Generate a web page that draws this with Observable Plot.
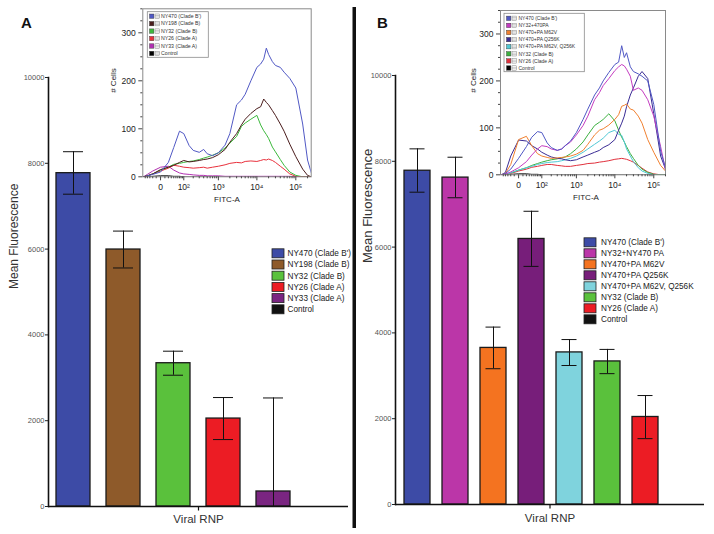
<!DOCTYPE html>
<html><head><meta charset="utf-8">
<script src="https://cdn.jsdelivr.net/npm/d3@7"></script>
<script src="https://cdn.jsdelivr.net/npm/@observablehq/plot@0.6"></script>
<style>
body{margin:0;background:#fff;}
#fig{position:relative;width:714px;height:534px;overflow:hidden;background:#fff;}
</style></head><body><div id="fig"></div>
<script>
const FONT = '"Liberation Sans", Arial, Helvetica, sans-serif';

// ---------- Bar chart data ----------
const labelsA = ["NY470 (Clade B')", "NY198 (Clade B)", "NY32 (Clade B)", "NY26 (Clade A)", "NY33 (Clade A)", "Control"];
const colorsA = ["#3d4ba6", "#8e5a2a", "#5ac13c", "#ec1c24", "#7a2581", "#111111"];
const meanA = [7770, 5990, 3340, 2050, 350, 0];
const lowA  = [7280, 5560, 3060, 1560, 0, 0];
const highA = [8270, 6420, 3620, 2540, 2530, 0];

const labelsB = ["NY470 (Clade B')", "NY32+NY470 PA", "NY470+PA M62V", "NY470+PA Q256K", "NY470+PA M62V, Q256K", "NY32 (Clade B)", "NY26 (Clade A)", "Control"];
const colorsB = ["#3d4ba6", "#bb36a8", "#f47320", "#771e7a", "#7fd3dd", "#5ac13c", "#ec1c24", "#111111"];
const meanB = [7780, 7620, 3650, 6190, 3545, 3335, 2040, 0];
const lowB  = [7280, 7150, 3165, 5550, 3240, 3050, 1535, 0];
const highB = [8290, 8095, 4135, 6835, 3845, 3615, 2540, 0];

const yTicks = [0, 2000, 4000, 6000, 8000, 10000];
const yTickLabels = ["0", "2000", "4000", "6000", "8000", "10000"];

// ---------- Flow histogram data (inset) ----------
const fitc = [-60,-40,-20,0,20,40,70,100,150,200,300,400,500,700,1000,1500,2000,3000,4000,5000,7000,10000,12500,15000,17500,20000,25000,30000,40000,50000,70000,100000,150000,200000,250000];

const histLabelsA = ["NY470 (Clade B')", "NY198 (Clade B)", "NY32 (Clade B)", "NY26 (Clade A)", "NY33 (Clade A)", "Control"];
const histColorsA = ["#5058c4", "#4a1c1c", "#3cb83c", "#e8303c", "#b030b0", "#000000"];
const histA_NY470 = [0,2,5,10,30,61,95,90,65,55,51,57,48,44,50,66,90,150,160,172,200,228,235,245,268,255,240,232,228,218,205,185,110,35,8];
const histA_NY198 = [0,2,6,15,20,24,30,34,31,32,34,36,37,40,46,57,72,90,108,120,132,142,146,162,155,150,138,128,110,95,68,42,16,3,0];
const histA_NY32  = [0,2,6,14,20,26,28,30,32,33,36,39,41,45,50,60,70,84,105,112,120,128,108,96,88,80,62,52,36,24,10,3,0,0,0];
const histA_NY26  = [0,2,6,12,18,24,22,20,19,18,19,20,18,20,22,25,28,30,29,32,33,32,34,36,35,37,34,30,22,16,6,1,0,0,0];
const histA_NY33  = [0,5,12,20,22,14,8,6,5,4,3,3,2,2,2,1,1,1,1,1,1,1,1,1,1,1,1,1,1,1,1,0,0,0,0];
const histA_Ctrl  = [0,0,1,2,2,1,1,0,0,0,0,0,0,0,0,0,0,0,0,0,0,0,0,0,0,0,0,0,0,0,0,0,0,0,0];

const histLabelsB = ["NY470 (Clade B')", "NY32+470PA", "NY470+PA M62V", "NY470+PA Q256K", "NY470+PA M62V, Q256K", "NY32 (Clade B)", "NY26 (Clade A)", "Control"];
const histColorsB = ["#5058c4", "#c43cc0", "#f08030", "#3a2c94", "#50c8d4", "#3cb040", "#e0303c", "#000000"];
const histB_NY470 = [0,3,12,35,60,80,92,90,68,58,52,55,62,72,90,118,140,170,185,200,218,235,240,275,250,260,230,220,215,210,200,150,50,15,5];
const histB_PA    = [0,2,6,15,28,42,55,62,60,55,52,55,62,70,85,105,125,160,175,190,205,222,230,235,232,225,210,180,185,180,160,125,60,10,2];
const histB_M62V  = [0,3,22,75,82,62,45,40,37,35,36,37,38,40,44,52,65,85,95,98,106,118,128,146,148,151,140,138,125,110,75,48,20,8,2];
const histB_Q256K = [0,5,40,74,72,62,55,48,42,38,35,34,32,30,32,38,42,48,52,58,64,75,95,110,125,145,170,185,210,220,205,130,40,12,3];
const histB_Dbl   = [0,1,4,10,15,18,22,24,26,27,28,30,32,35,40,48,55,65,72,78,90,95,86,84,70,55,40,28,15,8,3,0,0,0,0];
const histB_NY32  = [0,1,4,10,15,20,24,27,30,32,34,36,38,45,55,70,85,105,112,118,130,115,95,80,70,60,45,35,20,12,5,1,0,0,0];
const histB_NY26  = [0,1,3,8,12,16,18,20,22,22,20,19,18,18,20,22,24,25,27,28,30,33,34,35,34,33,30,27,20,14,6,2,0,0,0];
const histB_Ctrl  = [0,0,1,2,2,1,1,0,0,0,0,0,0,0,0,0,0,0,0,0,0,0,0,0,0,0,0,0,0,0,0,0,0,0,0];

const cellTicks = [0, 100, 200, 300];
const cellMinorTicks = [25,50,75,125,150,175,225,250,275,325,350];
const fitcTicks = [0, 100, 1000, 10000, 100000];
const fitcTickLabels = ["0", "10\u00B2", "10\u00B3", "10\u2074", "10\u2075"];
const fitcMinorTicks = [-50,-40,-30,-20,-10,10,20,30,40,50,60,70,80,90,200,300,400,500,600,700,800,900,2000,3000,4000,5000,6000,7000,8000,9000,20000,30000,40000,50000,60000,70000,80000,90000,200000];

// ---------- helpers ----------
const fig = document.getElementById("fig");
function place(node, left, top) {
  node.style.position = "absolute";
  node.style.left = left + "px";
  node.style.top = top + "px";
  fig.appendChild(node);
}
const tickSymbol = {draw(context) { context.moveTo(0, 0); context.lineTo(0, 4); }};

function barPanel(o) {
  const data = o.labels.map((label, i) => ({label, mean: o.mean[i], low: o.low[i], high: o.high[i]}));
  const err = data.filter(d => d.high > d.low);
  return Plot.plot({
    width: o.width, height: 534,
    marginLeft: o.marginLeft, marginRight: o.marginRight, marginTop: o.marginTop, marginBottom: o.marginBottom,
    style: {background: "transparent", fontFamily: FONT, color: "#222", overflow: "visible"},
    x: {domain: o.labels, paddingInner: 0.32, paddingOuter: 0.16, axis: null},
    y: {domain: [0, 10000], axis: null},
    color: {domain: o.labels, range: o.colors},
    marks: [
      Plot.barY(data, {x: "label", y: "mean", fill: "label", stroke: "#1b1b1b", strokeWidth: 1.3}),
      Plot.ruleX(err, {x: "label", y1: "low", y2: "high", stroke: "#111", strokeWidth: 1}),
      Plot.tickY(err, {x: "label", y: "high", stroke: "#111", strokeWidth: 1, insetLeft: o.capInset, insetRight: o.capInset}),
      Plot.tickY(err, {x: "label", y: "low", stroke: "#111", strokeWidth: 1, insetLeft: o.capInset, insetRight: o.capInset}),
      Plot.ruleY([0], {stroke: "#111", strokeWidth: 1.6}),
      Plot.frame({anchor: "left", stroke: "#111", strokeWidth: 1.6}),
      Plot.axisY(yTicks, {label: null, tickSize: 3, tickPadding: 1, fontSize: 7.5, fill: "#555", stroke: "#222",
        tickFormat: d => yTickLabels[yTicks.indexOf(d)]}),
      Plot.text(["Mean Fluorescence"], {text: d => d, frameAnchor: "left", dx: o.titleDx, dy: o.titleDy, rotate: -90, fontSize: o.titleSize, fill: "#333"}),
      Plot.text(["Viral RNP"], {text: d => d, frameAnchor: "bottom", dy: o.labelDy, fontSize: 11.5, fill: "#333"}),
      Plot.dot([0], {frameAnchor: "bottom", symbol: tickSymbol, stroke: "#111", strokeWidth: 1.2, r: 3})
    ]
  });
}

function histInset(o) {
  const rows = [];
  for (let j = o.series.length - 1; j >= 0; --j) {
    o.series[j].forEach((y, i) => rows.push({x: fitc[i], y, s: o.labels[j]}));
  }
  const labelMap = new Map(fitcTicks.map((t, i) => [t, fitcTickLabels[i]]));
  return Plot.plot({
    width: o.width, height: o.height,
    marginLeft: o.marginLeft, marginRight: o.marginRight, marginTop: o.marginTop, marginBottom: o.marginBottom,
    style: {background: "transparent", fontFamily: FONT, color: "#222", overflow: "visible"},
    x: {type: "symlog", constant: 34, domain: o.domainX, axis: null},
    y: {domain: [0, 350], axis: null},
    color: {domain: o.labels, range: o.colors},
    marks: [
      Plot.frame({stroke: "#8a8a8a", strokeWidth: 1}),
      Plot.line(rows, {x: "x", y: "y", z: "s", stroke: "s", strokeWidth: 1, clip: true}),
      Plot.axisY(cellTicks, {label: null, tickSize: 4, tickPadding: 3, fontSize: 8.5, fill: "#222", stroke: "#444"}),
      Plot.axisY(cellMinorTicks, {label: null, tickSize: 2, stroke: "#444", tickFormat: () => ""}),
      Plot.axisX(fitcTicks, {label: null, tickSize: 4, tickPadding: 3.5, fontSize: 8.5, fill: "#222", stroke: "#444", tickFormat: d => labelMap.get(d)}),
      Plot.axisX(fitcMinorTicks, {label: null, tickSize: 2, stroke: "#444", tickFormat: () => ""}),
      Plot.text(["# Cells"], {text: d => d, frameAnchor: "left", dx: o.cellsDx, rotate: -90, fontSize: 8, fill: "#222"}),
      Plot.text(["FITC-A"], {text: d => d, frameAnchor: "bottom", dx: o.fitcDx, dy: 25, fontSize: 8, fill: "#222"})
    ]
  });
}

// ---------- build ----------
place(barPanel({labels: labelsA, colors: colorsA, mean: meanA, low: lowA, high: highA,
  width: 355, marginLeft: 48, marginRight: 7, marginTop: 77, marginBottom: 28, capInset: 7,
  titleDx: -34, titleDy: -3, titleSize: 12, labelDy: 16}), 0, 0);
place(barPanel({labels: labelsB, colors: colorsB, mean: meanB, low: lowB, high: highB,
  width: 357, marginLeft: 38, marginRight: 10, marginTop: 75, marginBottom: 30, capInset: 5.5,
  titleDx: -28, titleDy: -27, titleSize: 13, labelDy: 17.5}), 357, 0);

place(histInset({series: [histA_NY470, histA_NY198, histA_NY32, histA_NY26, histA_NY33, histA_Ctrl],
  labels: histLabelsA, colors: histColorsA, domainX: [-63, 248000],
  width: 215, height: 205, marginLeft: 42.3, marginRight: 4.3, marginTop: 8.3, marginBottom: 28.7, cellsDx: -29, fitcDx: 0}), 100, 0);
place(histInset({series: [histB_NY470, histB_PA, histB_M62V, histB_Q256K, histB_Dbl, histB_NY32, histB_NY26, histB_Ctrl],
  labels: histLabelsB, colors: histColorsB, domainX: [-65, 200000],
  width: 210, height: 205, marginLeft: 40, marginRight: 5, marginTop: 10, marginBottom: 30.7, cellsDx: -27, fitcDx: 3}), 460, 0);

// ---------- overlay: panel letters, divider, legends ----------
const svg = d3.create("svg").attr("width", 714).attr("height", 534)
  .style("position", "absolute").style("left", "0px").style("top", "0px")
  .style("font-family", FONT);
svg.append("rect").attr("x", 352.5).attr("y", 7).attr("width", 3.5).attr("height", 521).attr("fill", "#111");
svg.append("text").attr("x", 21).attr("y", 28).attr("font-size", 15).attr("font-weight", "bold").attr("fill", "#111").text("A");
svg.append("text").attr("x", 377).attr("y", 28).attr("font-size", 15).attr("font-weight", "bold").attr("fill", "#111").text("B");

function mainLegend(labels, colors, x0, y0, step, tx) {
  const g = svg.append("g");
  labels.forEach((l, i) => {
    const y = y0 + i * step;
    g.append("rect").attr("x", x0).attr("y", y - 4.5).attr("width", 12).attr("height", 9)
      .attr("fill", colors[i]).attr("stroke", "#222").attr("stroke-width", 0.8);
    g.append("text").attr("x", tx).attr("y", y).attr("dy", "0.35em").attr("font-size", 8.2).attr("fill", "#222").text(l);
  });
}
mainLegend(labelsA, colorsA, 272, 253.3, 11.2, 287.5);
mainLegend(labelsB, colorsB, 584, 242.3, 11.0, 601);

function insetLegend(labels, colors, bx, by, bw, bh, y0, step, sx, ix, tx, fs) {
  const g = svg.append("g");
  g.append("rect").attr("x", bx).attr("y", by).attr("width", bw).attr("height", bh)
    .attr("fill", "#fff").attr("stroke", "#8a8a8a").attr("stroke-width", 0.8);
  labels.forEach((l, i) => {
    const y = y0 + i * step;
    g.append("rect").attr("x", sx).attr("y", y - 2.2).attr("width", 4.4).attr("height", 4.4)
      .attr("fill", colors[i]).attr("stroke", "#333").attr("stroke-width", 0.4);
    g.append("rect").attr("x", ix).attr("y", y - 2.2).attr("width", 4.4).attr("height", 4.4)
      .attr("fill", "#fff").attr("stroke", "#666").attr("stroke-width", 0.4);
    g.append("path").attr("d", `M${ix},${y - 0.7}h4.4M${ix},${y + 0.8}h4.4`).attr("stroke", "#666").attr("stroke-width", 0.35);
    g.append("text").attr("x", tx).attr("y", y).attr("dy", "0.35em").attr("font-size", fs).attr("fill", "#333").text(l);
  });
}
insetLegend(histLabelsA, histColorsA, 147.3, 11.7, 61, 45.6, 16.2, 7.45, 149.5, 155, 161, 5.2);
insetLegend(histLabelsB, histColorsB, 504, 13.3, 80.3, 58.4, 18.3, 7.1, 506.5, 512, 518.5, 5.0);

fig.appendChild(svg.node());
</script>
</body></html>
